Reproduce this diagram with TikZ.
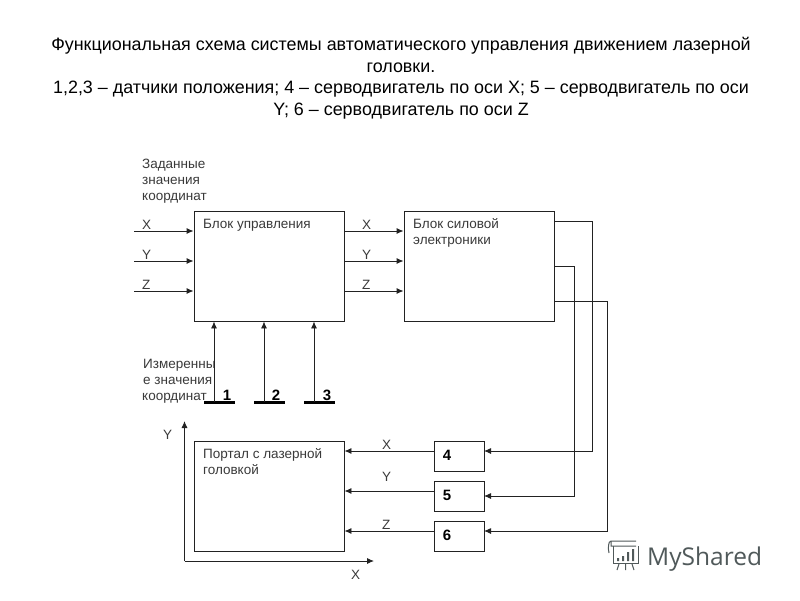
\documentclass[tikz,border=0pt]{standalone}
\usepackage{fontspec}
\setmainfont{Liberation Sans}
\newfontfamily\logofont{Open Sans}
\usetikzlibrary{arrows.meta,calc}
\definecolor{ln}{HTML}{222222}
\definecolor{txt}{HTML}{3A3A3A}
\definecolor{logo}{HTML}{50595A}
\tikzset{
  x=1pt,y=-1pt,
  blockbox/.style={draw=ln,line width=0.9pt,fill=white,minimum width=150pt,minimum height=110pt,inner sep=0pt},
  smallbox/.style={draw=ln,line width=0.9pt,fill=white,minimum width=50pt,minimum height=30pt,inner sep=0pt},
  sensorbar/.style={fill=black,minimum width=31pt,minimum height=3pt,inner sep=0pt},
  wire/.style={draw=ln,line width=0.9pt},
  arr/.style={wire,-{Latex[length=7pt,width=6pt]}},
  lab/.style={font=\fontsize{13.5}{16}\selectfont,text=txt,anchor=base west,inner sep=0pt,align=left},
  num/.style={font=\fontsize{15}{16}\selectfont\bfseries,text=black,anchor=base,inner sep=0pt},
  ttl/.style={font=\fontsize{17.9}{21}\selectfont,text=black,anchor=base,inner sep=0pt},
}
\begin{document}
\begin{tikzpicture}
\useasboundingbox (0,0) rectangle (800,600);
\fill[white] (0,0) rectangle (800,600);
% title
\node[ttl] (t1) at (401,50) {Функциональная схема системы автоматического управления движением лазерной};
\node[ttl] (t2) at (401,72) {головки.};
\node[ttl] (t3) at (401,93) {1,2,3 – датчики положения; 4 – серводвигатель по оси X; 5 – серводвигатель по оси};
\node[ttl] (t4) at (401,115) {Y; 6 – серводвигатель по оси Z};
% blocks
\node[blockbox] (ctrl) at (269,266) {};
\node[blockbox] (pow) at (479,266) {};
\node[blockbox] (port) at (269,496) {};
\node[smallbox] (b4) at (459,456) {};
\node[smallbox] (b5) at (459,496) {};
\node[smallbox] (b6) at (459,536) {};
\node[lab] (lc) at (203,228) {Блок управления};
\node[lab] (lp1) at (413,228) {Блок силовой};
\node[lab] (lp2) at (413,244) {электроники};
\node[lab] (lg1) at (203,458) {Портал с лазерной};
\node[lab] (lg2) at (203,474) {головкой};
\node[num] (n4) at (447,460) {4};
\node[num] (n5) at (447,500) {5};
\node[num] (n6) at (447,540) {6};
% left captions
\node[lab] (a1) at (142,168) {Заданные};
\node[lab] (a2) at (142,184) {значения};
\node[lab] (a3) at (142,200) {координат};
\node[lab] (m1) at (143,368) {Измеренны};
\node[lab] (m2) at (143,384) {е значения};
\node[lab] (m3) at (142,400) {координат};
% inputs
\coordinate (i1) at (134,231);
\coordinate (i2) at (134,261);
\coordinate (i3) at (134,291);
\foreach \k in {1,2,3}{
  \draw[arr] (i\k) -- (i\k -| ctrl.west);
  \draw[arr] (i\k -| ctrl.east) -- (i\k -| pow.west);
}
\node[lab] (xa) at (142,229) {X};
\node[lab] (ya) at (142,259) {Y};
\node[lab] (za) at (142,289) {Z};
\node[lab] (xb) at (362,229) {X};
\node[lab] (yb) at (362,259) {Y};
\node[lab] (zb) at (362,289) {Z};
% sensors
\node[sensorbar] (s1) at (219.5,402.5) {};
\node[sensorbar] (s2) at (269.5,402.5) {};
\node[sensorbar] (s3) at (319.5,402.5) {};
\coordinate (u1) at (214,402);
\coordinate (u2) at (264,402);
\coordinate (u3) at (314,402);
\foreach \k in {1,2,3}{
  \draw[arr] (u\k) -- (u\k |- ctrl.south);
}
\node[num] (n1) at (227,400) {1};
\node[num] (n2) at (276,400) {2};
\node[num] (n3) at (327,400) {3};
% power wires
\coordinate (p1) at (554,221);
\coordinate (p2) at (554,266);
\coordinate (p3) at (554,301);
\coordinate (e1) at (484,451);
\coordinate (e2) at (484,496);
\coordinate (e3) at (484,531);
\draw[arr] (p1) -| (592,451) -- (e1);
\draw[arr] (p2) -| (574,496) -- (e2);
\draw[arr] (p3) -| (607,531) -- (e3);
% outputs
\draw[arr] (b4.west |- 0,451) -- (port.east |- 0,451);
\draw[arr] (b5.west |- 0,491) -- (port.east |- 0,491);
\draw[arr] (b6.west |- 0,531) -- (port.east |- 0,531);
\node[lab] (xc) at (382,449) {X};
\node[lab] (yc) at (382,481) {Y};
\node[lab] (zc) at (382,529) {Z};
% axes
\coordinate (o) at (184.5,561);
\coordinate (ay) at (184.5,421);
\coordinate (ax) at (374,561);
\draw[arr] (o) -- (ay);
\draw[arr] (o) -- (ax);
\node[lab] (yd) at (163,439) {Y};
\node[lab] (xd) at (351,579) {X};
% logo
\begin{scope}[line width=1pt,draw=logo]
  \draw (611,541) -- (636,541) (611,541) .. controls (608,541) and (608,549) .. (609,553) (611,541) -- (611,546) -- (636,546);
  \draw (613,546) -- (613,563) -- (638,563) -- (638,546);
  \fill[logo] (617,558) rectangle (619,561) (622,556) rectangle (624,561) (627,552) rectangle (629,561) (632,549) rectangle (634,561);
  \draw (619,564) -- (617,570) (625.5,564) -- (625.5,570) (632,564) -- (634,570);
\end{scope}
\node[font=\logofont\fontsize{24.5}{24}\selectfont,text=logo,anchor=base west,inner sep=0pt] (lg) at (647,565) {MyShared};
\end{tikzpicture}
\end{document}
